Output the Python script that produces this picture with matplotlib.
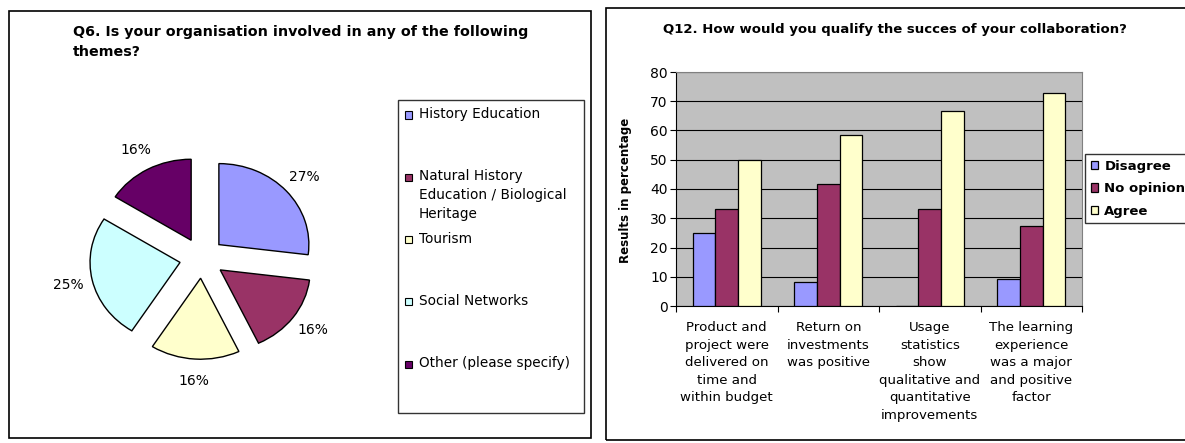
import matplotlib
matplotlib.use('Agg')
import matplotlib.pyplot as plt
from matplotlib.patches import Rectangle
import numpy as np

# Q6 - themes the organisations work on (percent of answers)
themes = ['History Education',
          'Natural History\nEducation / Biological\nHeritage',
          'Tourism',
          'Social Networks',
          'Other (please specify)']
theme_pct = [27, 16, 16, 25, 16]
theme_colors = ['#9999FF', '#993366', '#FFFFCC', '#CCFFFF', '#660066']

# Q12 - success of the collaboration
statements = ['Product and\nproject were\ndelivered on\ntime and\nwithin budget',
              'Return on\ninvestments\nwas positive',
              'Usage\nstatistics\nshow\nqualitative and\nquantitative\nimprovements',
              'The learning\nexperience\nwas a major\nand positive\nfactor']
answers = ['Disagree', 'No opinion', 'Agree']
disagree = [25.0, 8.3, 0.0, 9.1]
no_opinion = [33.3, 41.7, 33.3, 27.3]
agree = [50.0, 58.3, 66.7, 72.7]
answer_colors = ['#9999FF', '#993366', '#FFFFCC']

W, H = 1185, 443


def px_rect(x0, y0, x1, y1):
    # pixel box (top-left origin) -> figure fraction rect
    return [x0 / W, 1 - y1 / H, (x1 - x0) / W, (y1 - y0) / H]


def fx(x):
    return x / W


def fy(y):
    return 1 - y / H


fig = plt.figure(figsize=(W / 100, H / 100), dpi=100)
fig.patch.set_facecolor('white')

# panel frames
fig.patches.append(Rectangle((fx(9), fy(438)), fx(591) - fx(9), fy(11) - fy(438),
                             transform=fig.transFigure, fill=False, lw=1.2, ec='black'))
fig.patches.append(Rectangle((fx(606), fy(440)), fx(1195) - fx(606), fy(8) - fy(440),
                             transform=fig.transFigure, fill=False, lw=1.2, ec='black'))

# ---- pie chart ----
fig.text(fx(73), fy(25), 'Q6. Is your organisation involved in any of the following\nthemes?',
         ha='left', va='top', fontsize=10.3, fontweight='bold', linespacing=1.5)

ax1 = fig.add_axes(px_rect(27, 108, 377, 408))
wedges, _, pcts = ax1.pie(theme_pct, colors=theme_colors, startangle=90, counterclock=False,
                          explode=[0.25] * len(theme_pct),
                          autopct=lambda p: '%.0f%%' % p, pctdistance=1.27,
                          wedgeprops=dict(edgecolor='black', linewidth=1.0),
                          textprops=dict(fontsize=10))
ax1.set_aspect('auto')
ax1.set_xlim(-175 / 90, 175 / 90)
ax1.set_ylim(-150 / 81, 150 / 81)
ax1.axis('off')

# legend drawn as a box with one row per theme
fig.patches.append(Rectangle((fx(398), fy(413)), fx(584) - fx(398), fy(100) - fy(413),
                             transform=fig.transFigure, fill=False, lw=1.0, ec='#333333'))
for i, (lab, col) in enumerate(zip(themes, theme_colors)):
    ey = 115 + i * 62.3
    fig.patches.append(Rectangle((fx(405), fy(ey + 3.5)), fx(412) - fx(405), fy(ey - 3.5) - fy(ey + 3.5),
                                 transform=fig.transFigure, fc=col, ec='black', lw=0.8))
    fig.text(fx(419), fy(ey - 8), lab, ha='left', va='top', fontsize=9.8, linespacing=1.45)

# ---- bar chart ----
fig.text(fx(663), fy(29), 'Q12. How would you qualify the succes of your collaboration?',
         ha='left', va='center', fontsize=9.5, fontweight='bold')

ax2 = fig.add_axes(px_rect(676, 72, 1082, 306))
ax2.set_facecolor('#C0C0C0')
x = np.arange(len(statements))
bw = 0.222
for k, (vals, col, lab) in enumerate(zip([disagree, no_opinion, agree], answer_colors, answers)):
    ax2.bar(x + (k - 1) * bw, vals, width=bw, color=col, edgecolor='black', linewidth=0.9,
            label=lab, zorder=3)

ax2.set_xlim(-0.5, len(statements) - 0.5)
ax2.set_ylim(0, 80)
ax2.set_yticks(np.arange(0, 81, 10))
ax2.yaxis.grid(True, color='black', linewidth=0.8, zorder=1)
ax2.set_axisbelow(True)
ax2.tick_params(axis='y', length=4, width=0.8, pad=2, labelsize=10, direction='out')
ax2.set_xticks(x)
ax2.set_xticklabels(statements, fontsize=9.6, linespacing=1.45)
ax2.tick_params(axis='x', length=0, pad=11)
ax2.set_xticks(np.arange(-0.5, len(statements)), minor=True)
ax2.tick_params(axis='x', which='minor', length=4, width=0.8, direction='out')
for s in ['left', 'bottom']:
    ax2.spines[s].set_color('black')
for s in ['top', 'right']:
    ax2.spines[s].set_color('#808080')

fig.text(fx(625), fy(190), 'Results in percentage', rotation=90, ha='center', va='center',
         fontsize=8.5, fontweight='bold')

fig.legend(*ax2.get_legend_handles_labels(), loc='upper left',
           bbox_to_anchor=(fx(1085), fy(154)), bbox_transform=fig.transFigure,
           borderaxespad=0, fancybox=False, edgecolor='#333333', framealpha=1,
           prop=dict(size=9.5, weight='bold'), handlelength=0.6, handleheight=0.6,
           handletextpad=0.45, labelspacing=0.72, borderpad=0.42)

fig.savefig('out.png', dpi=100)
